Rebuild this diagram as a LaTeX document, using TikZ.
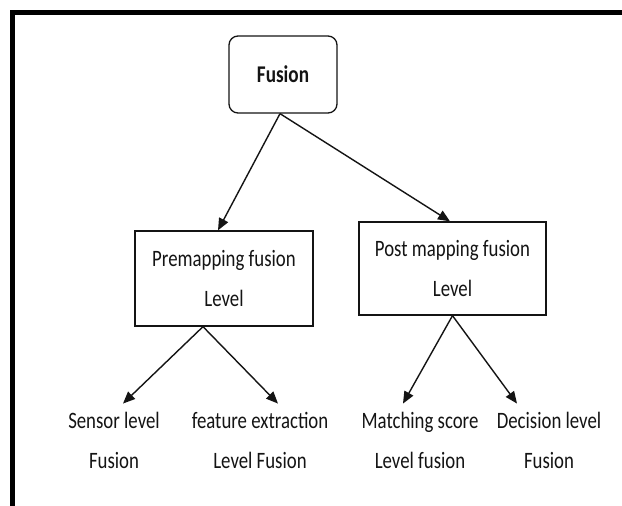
\documentclass[tikz,border=0pt]{standalone}
\usepackage{fontspec}
\setmainfont{Carlito}[FakeStretch=0.8]
\usetikzlibrary{arrows.meta,positioning}
\definecolor{ink}{HTML}{141414}
\tikzset{
  box/.style={draw=ink,line width=1.3pt,align=center,inner sep=0pt},
  leaf/.style={align=center,inner xsep=0pt,inner ysep=8pt},
  link/.style={draw=ink,line width=1.4pt,-{Triangle[length=12pt,width=10pt]}}
}
\begin{document}
\begin{tikzpicture}[x=1pt,y=-1pt,font=\fontsize{23.5}{40}\selectfont,text=ink]
  \useasboundingbox (0,0) rectangle (622,506);
  \fill[white] (0,0) rectangle (622,506);
  \draw[line width=5pt] (622,12) -- (12.5,12) -- (12.5,506);
  \node[box,rounded corners=9pt,minimum width=108pt,minimum height=77pt,font=\fontsize{24}{30}\selectfont\bfseries] (fusion) at (283,74.5) {Fusion};
  \node[box,minimum width=178pt,minimum height=95pt] (pre) at (224,278.5) {Premapping fusion\\Level};
  \node[box,minimum width=187pt,minimum height=93pt] (post) at (452.5,268.5) {Post mapping fusion\\Level};
  \node[leaf] (sensor) at (114,440) {Sensor level\\Fusion};
  \node[leaf] (feature) at (260,440) {feature extraction\\Level Fusion};
  \node[leaf] (matching) at (420,440) {Matching score\\Level fusion};
  \node[leaf] (decision) at (549,440) {Decision level\\Fusion};
  \draw[link] ([xshift=-3pt]fusion.south) -- ([xshift=-6pt]pre.north);
  \draw[link] ([xshift=-3pt]fusion.south) -- ([xshift=-2.5pt]post.north);
  \draw[link] ([xshift=-21pt]pre.south) -- ([xshift=9pt]sensor.north);
  \draw[link] ([xshift=-21pt]pre.south) -- ([xshift=18pt]feature.north);
  \draw[link] (post.south) -- ([xshift=-17pt]matching.north);
  \draw[link] (post.south) -- ([xshift=-32pt]decision.north);
\end{tikzpicture}
\end{document}
